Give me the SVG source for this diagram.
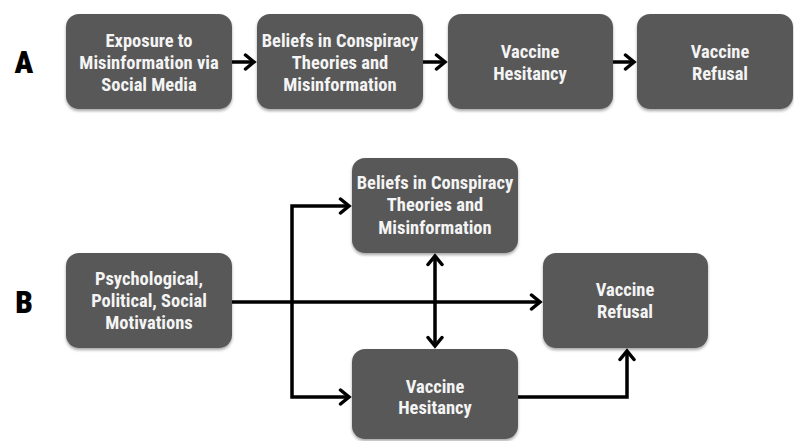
<svg xmlns="http://www.w3.org/2000/svg" width="794" height="441" viewBox="0 0 794 441">
<style>
.box{fill:#595959;filter:url(#sh)}
.t{font-family:"Roboto Condensed","Liberation Sans Narrow","DejaVu Sans Condensed",Roboto,sans-serif;font-stretch:condensed;font-weight:bold;font-size:18.5px;fill:#f4f4f4;text-anchor:middle}
.lbl{font-family:"Roboto Condensed","Liberation Sans Narrow","DejaVu Sans Condensed",Roboto,sans-serif;font-stretch:condensed;font-weight:900;font-size:31px;fill:#000;text-anchor:middle}
.c{fill:none;stroke:#000;stroke-width:3.5}
</style>
<defs>
<filter id="sh" x="-10%" y="-10%" width="120%" height="130%">
<feDropShadow dx="0" dy="2" stdDeviation="1.5" flood-color="#000" flood-opacity="0.35"/>
</filter>
<marker id="ah" viewBox="0 0 14 18" refX="11" refY="9" markerWidth="14" markerHeight="18" markerUnits="userSpaceOnUse" orient="auto-start-reverse">
<path d="M2.5,2 L11,9 L2.5,16" fill="none" stroke="#000" stroke-width="3.5" stroke-linecap="round" stroke-linejoin="miter"/>
</marker>
</defs>
<rect width="794" height="441" fill="#fff"/>
<text class="lbl" x="24" y="73">A</text>
<text class="lbl" x="24" y="313">B</text>
<g id="connectors">
<path class="c" d="M232,62 H254" marker-end="url(#ah)"/>
<path class="c" d="M423,62 H445" marker-end="url(#ah)"/>
<path class="c" d="M613,62 H634" marker-end="url(#ah)"/>
<path class="c" d="M232,302 H540" marker-end="url(#ah)"/>
<path class="c" d="M349,206 H292 V397 H349" marker-start="url(#ah)" marker-end="url(#ah)"/>
<path class="c" d="M435,256 V346" marker-start="url(#ah)" marker-end="url(#ah)"/>
<path class="c" d="M518,397 H627 V351" marker-end="url(#ah)"/>
</g>
<g id="a1"><rect class="box" x="66" y="14" width="166" height="95" rx="13"/>
<text class="t" x="149" y="47">Exposure to</text><text class="t" x="149" y="69">Misinformation via</text><text class="t" x="149" y="91">Social Media</text></g>
<g id="a2"><rect class="box" x="257" y="14" width="166" height="95" rx="13"/>
<text class="t" x="340" y="47">Beliefs in Conspiracy</text><text class="t" x="340" y="69">Theories and</text><text class="t" x="340" y="91">Misinformation</text></g>
<g id="a3"><rect class="box" x="448" y="14" width="165" height="95" rx="13"/>
<text class="t" x="530" y="58">Vaccine</text><text class="t" x="530" y="80">Hesitancy</text></g>
<g id="a4"><rect class="box" x="637" y="14" width="156" height="95" rx="13"/>
<text class="t" x="720" y="58">Vaccine</text><text class="t" x="720" y="80">Refusal</text></g>
<g id="b1"><rect class="box" x="66" y="253" width="166" height="95" rx="13"/>
<text class="t" x="149" y="285">Psychological,</text><text class="t" x="149" y="307">Political, Social</text><text class="t" x="149" y="329">Motivations</text></g>
<g id="b2"><rect class="box" x="352" y="158" width="166" height="95" rx="13"/>
<text class="t" x="435" y="189">Beliefs in Conspiracy</text><text class="t" x="435" y="211">Theories and</text><text class="t" x="435" y="234">Misinformation</text></g>
<g id="b3"><rect class="box" x="543" y="253" width="165" height="95" rx="13"/>
<text class="t" x="625" y="296">Vaccine</text><text class="t" x="625" y="318">Refusal</text></g>
<g id="b4"><rect class="box" x="352" y="349" width="166" height="90" rx="13"/>
<text class="t" x="435" y="393">Vaccine</text><text class="t" x="435" y="414">Hesitancy</text></g>
</svg>
